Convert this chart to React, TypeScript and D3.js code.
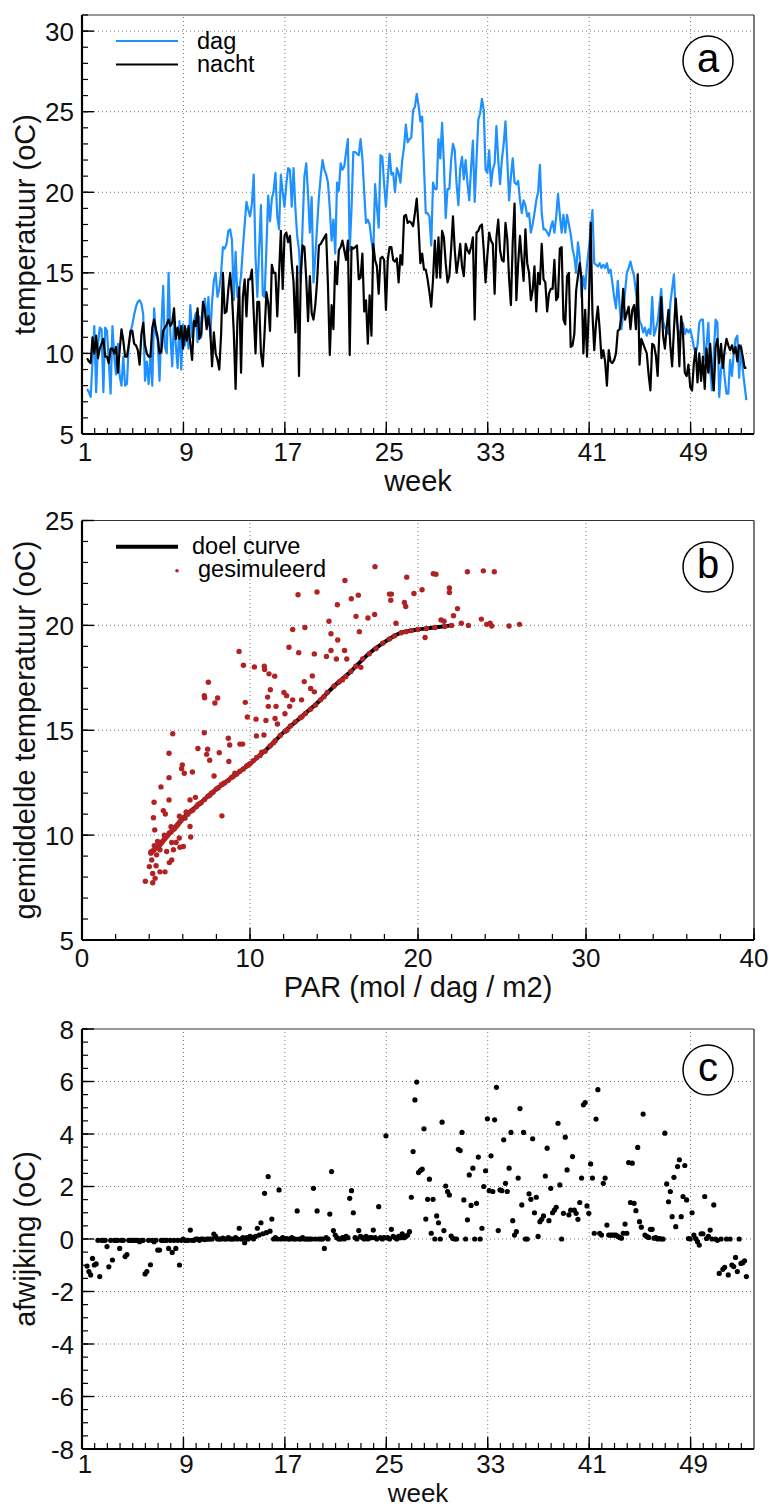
import React from 'react';
import * as d3 from 'd3';

const FONT = '"Liberation Sans", Arial, Helvetica, sans-serif';

// ---------- Panel a: daily temperatures (rows = weeks, first row starts at week 1.4) ----------
const dagRows: number[][] = [
  [7.8, 7.6, 7.3, 9.5],
  [11.7, 7.6, 10.5, 11.6, 11.5, 7.6, 11.6],
  [11.4, 9.5, 7.5, 11.7, 9.8, 8.7, 10.6],
  [8.6, 8.0, 9.8, 8.0, 8.1, 10.5, 11.3],
  [11.8, 12.4, 12.9, 13.2, 13.3, 13.1, 12.4],
  [8.3, 9.5, 8.1, 10.0, 8.0, 12.8, 11.2],
  [10.8, 8.3, 11.5, 14.2, 10.4, 10.0, 15.0],
  [11.2, 9.2, 12.0, 10.5, 9.1, 12.0, 9.0],
  [11.8, 10.5, 11.5, 10.3, 13.0, 11.0, 12.0],
  [12.5, 10.7, 12.3, 11.0, 12.8, 13.4, 12.0],
  [13.5, 11.0, 13.2, 14.5, 15.0, 13.5, 14.0],
  [15.0, 16.6, 16.5, 16.8, 17.6, 17.7, 17.0],
  [13.3, 16.3, 13.5, 14.0, 14.8, 16.5, 18.0],
  [19.4, 18.9, 18.5, 19.3, 21.1, 16.0, 13.5],
  [16.5, 19.2, 13.6, 13.5, 16.5, 19.8, 18.2],
  [19.6, 20.1, 21.2, 18.5, 17.7, 21.1, 20.0],
  [19.1, 20.5, 21.5, 21.4, 19.1, 21.5, 19.0],
  [17.3, 16.4, 14.4, 18.0, 21.0, 21.8, 19.9],
  [17.5, 19.7, 14.4, 16.0, 17.9, 19.7, 21.0],
  [22.0, 21.4, 21.1, 20.6, 19.0, 17.0, 18.3],
  [16.2, 20.6, 20.1, 21.8, 21.4, 21.6, 22.5],
  [23.3, 16.4, 19.0, 22.5, 22.5, 22.4, 22.3],
  [23.3, 22.1, 20.0, 18.1, 18.3, 18.0, 17.0],
  [16.2, 20.5, 19.1, 17.8, 22.3, 22.2, 20.5],
  [19.1, 20.8, 22.4, 21.1, 21.2, 20.0, 21.5],
  [21.2, 20.6, 22.0, 22.8, 24.2, 23.1, 23.3],
  [23.4, 25.1, 25.3, 26.1, 25.4, 24.4, 24.7],
  [21.6, 18.7, 18.7, 18.5, 16.7, 20.6, 20.2],
  [20.2, 23.3, 22.1, 24.3, 21.8, 18.4, 20.2],
  [20.2, 22.0, 23.0, 22.6, 20.5, 19.2, 21.5],
  [22.2, 20.8, 22.0, 20.6, 19.5, 21.5, 23.2],
  [19.4, 22.0, 24.5, 24.9, 25.8, 25.1, 21.4],
  [21.2, 22.6, 20.4, 21.4, 21.8, 24.1, 22.0],
  [20.5, 22.0, 23.0, 24.4, 22.0, 19.5, 21.0],
  [22.1, 20.6, 20.5, 20.7, 19.5, 18.7, 19.5],
  [19.2, 18.5, 18.7, 17.5, 18.0, 18.7, 19.5],
  [20.0, 21.7, 18.7, 17.7, 17.7, 17.5, 17.3],
  [17.8, 18.2, 17.5, 18.5, 19.9, 18.6, 17.5],
  [18.6, 17.5, 18.6, 18.0, 17.4, 16.5, 16.0],
  [15.0, 16.9, 16.0, 13.5, 14.8, 14.0, 15.5],
  [16.5, 17.5, 18.9, 15.6, 15.5, 15.4, 15.6],
  [15.3, 15.5, 15.3, 15.6, 15.0, 15.2, 14.4],
  [13.5, 12.8, 14.5, 13.0, 11.5, 12.5, 13.8],
  [15.0, 15.3, 15.7, 15.2, 14.8, 13.8, 13.1],
  [12.0, 11.8, 11.3, 11.6, 11.1, 11.5, 11.2],
  [13.5, 11.1, 11.5, 12.0, 13.0, 14.0, 12.0],
  [11.6, 11.4, 11.2, 13.1, 14.0, 14.9, 12.5],
  [11.6, 11.1, 11.5, 11.9, 11.2, 11.5, 11.3],
  [11.5, 11.0, 10.4, 10.0, 10.5, 11.9, 12.1],
  [12.1, 9.6, 10.5, 11.9, 9.0, 7.7, 10.0],
  [12.1, 11.9, 7.3, 9.0, 9.8, 8.5, 7.5],
  [7.5, 9.6, 8.6, 10.0, 10.9, 11.1, 8.5],
  [10.5, 9.0, 8.0, 7.1],
];

const nachtRows: number[][] = [
  [9.7, 9.5, 9.4, 11.0],
  [10.0, 11.1, 9.7, 10.3, 10.6, 10.9, 9.8],
  [9.8, 9.4, 10.3, 10.3, 10.0, 10.4, 8.8],
  [10.2, 11.5, 10.8, 9.8, 9.8, 10.5, 11.4],
  [11.4, 10.6, 10.5, 10.2, 9.3, 11.2, 11.9],
  [10.5, 10.0, 9.8, 9.8, 11.6, 12.1, 11.5],
  [11.0, 10.0, 10.1, 11.4, 11.6, 11.8, 12.1],
  [11.7, 11.9, 12.8, 10.9, 11.6, 10.9, 11.7],
  [10.3, 11.7, 10.8, 11.7, 10.6, 9.6, 12.0],
  [11.7, 12.8, 10.9, 11.2, 13.2, 12.7, 11.5],
  [12.3, 11.5, 9.2, 11.3, 10.0, 9.6, 9.0],
  [11.2, 15.0, 12.5, 12.6, 14.0, 15.0, 13.6],
  [11.3, 7.8, 12.0, 14.1, 8.8, 13.5, 14.6],
  [12.3, 14.6, 14.6, 15.2, 12.5, 10.0, 13.2],
  [13.2, 10.0, 9.2, 11.3, 13.8, 13.1, 11.4],
  [15.5, 15.0, 15.0, 12.3, 15.0, 17.6, 14.0],
  [17.3, 17.5, 16.9, 17.3, 15.6, 14.4, 11.3],
  [15.4, 8.6, 15.0, 16.7, 16.6, 14.6, 12.0],
  [14.8, 12.5, 12.1, 13.0, 14.5, 16.7, 16.8],
  [17.0, 17.2, 17.4, 14.2, 9.9, 13.0, 11.5],
  [15.7, 14.3, 16.4, 16.6, 17.0, 16.4, 15.8],
  [17.0, 9.9, 16.6, 16.5, 16.6, 16.7, 14.6],
  [14.7, 16.2, 12.6, 13.3, 10.6, 13.6, 11.1],
  [16.8, 15.8, 15.4, 13.7, 15.9, 16.0, 15.8],
  [12.7, 15.8, 16.6, 16.6, 15.8, 15.7, 15.9],
  [14.4, 16.1, 15.5, 18.5, 18.6, 18.1, 18.2],
  [18.1, 17.9, 18.7, 19.6, 17.9, 15.6, 16.2],
  [15.2, 15.2, 14.6, 13.8, 12.9, 14.6, 17.0],
  [14.7, 17.2, 14.7, 17.6, 17.2, 15.6, 14.4],
  [14.8, 16.5, 18.5, 16.4, 15.0, 15.8, 16.8],
  [15.4, 14.8, 16.8, 16.4, 16.2, 16.6, 17.2],
  [12.1, 17.5, 17.6, 17.9, 18.0, 16.4, 14.4],
  [16.1, 17.5, 17.0, 16.8, 13.7, 17.2, 18.3],
  [16.4, 15.8, 15.7, 18.1, 17.1, 14.6, 13.0],
  [16.9, 19.3, 13.3, 15.6, 17.3, 15.8, 14.5],
  [17.7, 15.6, 15.0, 13.3, 13.9, 15.4, 12.6],
  [15.0, 14.3, 16.8, 14.6, 14.4, 12.6, 13.7],
  [14.0, 14.0, 15.8, 13.3, 13.5, 16.5, 16.6],
  [12.1, 11.8, 14.8, 15.0, 10.4, 10.5, 11.2],
  [13.9, 14.8, 15.6, 14.6, 10.0, 12.7, 9.8],
  [12.7, 18.1, 12.5, 10.2, 11.9, 12.9, 11.5],
  [9.7, 10.2, 9.5, 8.0, 10.2, 9.5, 9.4],
  [9.6, 10.0, 11.4, 11.5, 12.3, 14.0, 12.1],
  [12.5, 12.9, 11.5, 12.7, 13.0, 11.5, 14.9],
  [9.3, 10.9, 10.6, 10.3, 10.0, 8.7, 7.7],
  [10.6, 10.5, 9.9, 8.6, 11.5, 13.5, 11.1],
  [10.3, 11.6, 12.7, 10.5, 9.2, 11.5, 13.4],
  [11.7, 9.2, 12.3, 11.2, 8.8, 8.6, 9.3],
  [7.9, 7.7, 9.4, 10.3, 8.2, 10.0, 8.3],
  [9.8, 7.8, 10.3, 8.8, 10.6, 8.8, 7.7],
  [10.4, 10.9, 9.4, 10.6, 9.1, 10.2, 10.9],
  [10.5, 10.2, 10.5, 10.0, 10.4, 9.5, 10.5],
  [10.4, 9.8, 9.1, 9.1],
];

// ---------- Panel c: daily deviation ----------
const afwijkingRows: number[][] = [
  [-1.03, -1.24, -1.37, -0.74],
  [-0.99, -0.95, -0.05, -1.43, -0.05, -0.05, -0.05],
  [-0.29, -1.06, -0.05, -0.8, -0.05, -0.05, -0.05],
  [-0.36, -0.05, -0.05, -0.67, -0.59, -0.05, -0.05],
  [-0.05, -0.05, -0.05, -0.05, -0.1, -0.05, -0.05],
  [-1.33, -1.24, -0.05, -0.98, -0.05, -0.1, -0.05],
  [-0.42, -0.42, -0.05, -0.05, -0.05, -0.05, -0.36],
  [-0.05, -0.51, -0.05, -0.36, -0.05, -0.99, -0.05],
  [0.0, -0.05, -0.05, -0.05, 0.34, -0.05, -0.05],
  [0.0, 0.0, -0.05, 0.0, 0.0, -0.02, 0.0],
  [0.0, 0.0, 0.0, 0.19, 0.1, 0.0, 0.0],
  [0.0, 0.03, 0.0, 0.0, 0.05, 0.0, 0.0],
  [0.0, 0.05, 0.0, 0.41, 0.0, 0.05, -0.14],
  [0.05, 0.0, 0.1, 0.05, 0.0, 0.1, 0.41],
  [0.15, 0.62, 0.2, 1.74, 0.24, 2.38, 0.3],
  [0.76, 0.0, 0.05, 0.0, 1.87, 0.0, 0.05],
  [0.0, 0.02, 0.0, 0.0, 0.05, 0.0, 0.0],
  [1.07, 0.0, 0.0, 0.05, 0.0, 0.0, 0.0],
  [0.0, 0.0, 1.93, 0.0, 1.07, 0.0, 0.0],
  [0.0, -0.36, 0.05, 0.0, 0.95, 2.57, 0.32],
  [0.15, 0.05, 0.0, 0.0, 0.05, 0.0, 0.1],
  [0.05, 1.55, 1.84, 1.0, 0.05, 0.0, 0.32],
  [0.1, 0.05, 0.0, 0.1, 0.0, 0.05, 0.05],
  [0.34, 0.05, 0.0, 1.23, 0.05, 0.0, 0.05],
  [3.93, 0.05, 0.0, 0.37, 0.1, 0.05, 0.0],
  [0.1, 0.05, 0.2, 0.05, 0.1, 0.15, 0.28],
  [1.59, 3.33, 5.3, 5.98, 2.53, 2.61, 2.66],
  [4.2, 0.76, 1.51, 2.28, 0.22, 1.51, 0.0],
  [0.88, 0.62, 0.0, 4.45, 0.32, 2.02, 1.81],
  [1.68, 0.11, 0.02, 0.0, 0.0, 3.42, 3.37],
  [4.06, 1.49, 0.0, 0.73, 2.44, 1.28, 2.7],
  [0.0, 1.36, 3.12, 0.0, 0.41, 2.0, 2.6],
  [4.58, 1.84, 3.17, 1.81, 4.54, 5.78, 0.32],
  [1.87, 1.84, 3.78, 2.12, 1.81, 2.7, 4.06],
  [0.7, 0.15, 0.28, 2.32, 4.97, 1.3, 4.06],
  [0.0, 0.0, 1.72, 1.51, 3.82, 1.0, 1.59],
  [0.1, 0.66, 0.75, 0.88, 2.4, 3.46, 0.7],
  [1.93, 1.0, 1.1, 1.21, 4.41, 2.06, 0.0],
  [0.98, 3.88, 2.63, 0.92, 1.1, 3.14, 1.1],
  [0.98, 0.75, 1.39, 2.32, 5.11, 5.2, 1.26],
  [0.98, 2.86, 2.32, 0.22, 4.57, 5.69, 0.22],
  [0.15, 2.12, 2.32, 0.53, 0.15, 0.15, 0.15],
  [0.15, 0.15, 0.1, 0.06, 0.03, 0.22, 0.57],
  [0.22, 2.91, 1.39, 2.89, 1.36, 1.08, 3.49],
  [0.66, 0.45, 4.76, 0.15, 0.1, 0.06, 0.37],
  [0.37, 0.03, 0.05, 0.0, 0.02, 0.0, 0.0],
  [4.03, 2.1, 1.42, 1.81, 0.85, 2.35, 0.47],
  [2.76, 3.02, 0.85, 1.62, 2.8, 1.49, 0.02],
  [0.0, 1.0, 0.15, 0.02, -0.1, -0.23, 0.2],
  [0.2, 1.62, 0.02, 0.1, 0.34, 0.0, 1.3],
  [0.0, -0.05, -1.31, 0.0, -1.16, -1.08, 0.0],
  [-1.37, 0.0, -0.99, -1.05, -0.7, -1.24, 0.0],
  [-0.93, -0.9, -0.83, -1.43],
];

// ---------- Panel b: target curve and simulated points ----------
const doelPar = [4.05, 5, 6, 7, 8, 9, 10, 11, 12, 13, 14, 15, 16, 17, 18, 19, 20, 21, 22];
const doelTemp = [9.1, 9.9, 10.8, 11.5, 12.2, 12.8, 13.4, 14.1, 14.9, 15.6, 16.3, 17.1, 17.8, 18.6, 19.2, 19.65, 19.8, 19.9, 20.0];

const simPar = [
  17.44, 15.65, 19.33, 20.91, 21.07, 22.94, 23.89, 24.54, 12.86, 13.99, 16.03, 16.45, 18.3, 18.42, 18.38, 19.76, 20.24, 21.87, 21.87, 15.2,
  19.19, 19.27, 17.42, 16.31, 17.02, 22.35, 22.11, 14.7, 12.54, 13.27, 18.69, 21.37, 21.55, 22.58, 23.0, 23.77, 24.09, 24.29, 24.39, 25.42,
  26.04, 20.42, 16.51, 14.82, 15.22, 12.32, 12.9, 9.35, 13.83, 14.82, 15.63, 14.55, 15.14, 15.76, 9.61, 10.26, 10.85, 10.87, 11.13, 11.47,
  13.71, 13.23, 11.21, 12.02, 12.18, 11.05, 13.61, 13.83, 7.52, 7.28, 7.3, 8.07, 7.91, 9.72, 13.07, 12.54, 11.09, 11.55, 12.36, 12.08,
  9.84, 10.36, 10.95, 11.49, 11.63, 5.4, 7.28, 8.71, 10.38, 10.83, 6.9, 7.48, 9.4, 9.56, 8.79, 5.18, 7.42, 7.6, 8.17, 8.74,
  5.97, 5.93, 6.09, 6.57, 5.18, 7.86, 4.7, 5.18, 4.29, 4.84, 4.96, 4.25, 6.43, 6.75, 8.33, 6.47, 4.33, 3.77, 4.21, 4.35,
  4.21, 4.64, 4.94, 4.41, 5.2, 5.34, 5.44, 5.83, 5.6, 6.03, 4.1, 4.15, 4.01, 4.44, 4.64, 5.04, 5.34, 5.79, 6.13, 6.43,
  4.1, 4.2, 4.3, 4.4, 4.5, 4.6, 4.7, 4.8, 4.9, 5.0, 5.1, 5.2, 5.3, 5.4, 5.5, 5.6, 5.7, 5.8, 5.9, 6.0,
  4.3, 4.5, 4.9, 5.3, 5.8, 6.2, 6.1, 6.3, 6.5, 6.6, 6.8, 7.0, 7.1, 7.3, 7.5, 7.6, 7.8, 8.0, 8.1, 8.3,
  8.5, 8.7, 8.9, 9.0, 9.2, 9.4, 9.6, 9.8, 10.0, 10.2, 10.4, 10.6, 10.9, 11.2, 11.5, 11.8, 12.1, 12.4, 12.7, 13.0,
  13.3, 13.6, 13.9, 14.2, 14.6, 15.0, 15.3, 15.7, 16.0, 16.3, 16.7, 17.1, 17.5, 17.9, 18.3, 18.6, 19.0, 19.3, 19.6, 20.0,
  20.5, 21.0, 21.6, 22.0, 6.9, 7.7, 8.4, 9.1, 9.9, 10.7, 11.4, 12.2, 13.1, 14.4, 15.5, 16.6,
];
const simTemp = [
  22.8, 22.14, 22.3, 22.46, 22.44, 22.56, 22.6, 22.56, 21.46, 21.59, 21.27, 21.44, 21.49, 21.49, 21.2, 21.52, 21.7, 21.78, 21.57, 20.98,
  21.09, 20.9, 20.52, 20.43, 20.35, 20.8, 20.46, 20.2, 19.8, 19.9, 20.1, 20.26, 20.2, 20.1, 20.0, 20.3, 20.05, 20.1, 19.97, 19.97,
  20.05, 19.42, 19.7, 19.6, 19.3, 18.96, 18.7, 18.76, 18.64, 18.8, 18.8, 18.52, 18.4, 18.4, 18.1, 18.02, 18.05, 17.9, 17.69, 17.58,
  17.59, 17.32, 16.93, 16.8, 16.65, 16.58, 16.99, 16.83, 17.29, 16.65, 16.55, 16.54, 16.3, 16.33, 16.45, 16.45, 16.14, 16.14, 16.14, 15.79,
  15.63, 15.53, 15.47, 15.56, 15.3, 14.83, 14.88, 14.62, 14.73, 14.77, 14.13, 14.1, 14.34, 14.34, 14.3, 13.9, 13.85, 13.57, 13.93, 13.51,
  13.35, 13.17, 12.95, 13.01, 12.74, 12.82, 12.3, 11.68, 11.57, 11.17, 11.01, 10.83, 11.68, 11.8, 10.92, 9.91, 10.25, 7.8, 7.73, 7.94,
  8.17, 8.25, 8.25, 8.54, 8.69, 8.82, 9.3, 9.42, 9.65, 9.46, 9.14, 8.82, 8.5, 9.06, 9.3, 9.22, 9.65, 9.86, 10.81, 10.41,
  9.2, 9.25, 9.3, 9.4, 9.45, 9.5, 9.6, 9.7, 9.8, 9.9, 10.0, 10.1, 10.15, 10.25, 10.3, 10.4, 10.5, 10.6, 10.7, 10.8,
  9.5, 9.7, 10.0, 10.4, 10.9, 11.1, 10.85, 11.0, 11.15, 11.2, 11.35, 11.5, 11.55, 11.7, 11.85, 11.9, 12.05, 12.2, 12.25, 12.4,
  12.5, 12.6, 12.75, 12.8, 12.9, 13.05, 13.15, 13.3, 13.4, 13.55, 13.7, 13.8, 14.0, 14.25, 14.5, 14.75, 14.95, 15.2, 15.4, 15.6,
  15.8, 16.0, 16.2, 16.45, 16.8, 17.1, 17.3, 17.55, 17.8, 18.05, 18.4, 18.65, 18.9, 19.15, 19.35, 19.5, 19.65, 19.7, 19.75, 19.8,
  19.85, 19.9, 19.95, 20.0, 11.45, 12.0, 12.45, 12.95, 13.35, 13.95, 14.4, 15.0, 15.65, 16.6, 17.4, 18.0,
];

const weekMajor = [1, 9, 17, 25, 33, 41, 49];
const weekGrid = [9, 17, 25, 33, 41, 49];
const tempAMajor = [5, 10, 15, 20, 25, 30];
const tempAGrid = [10, 15, 20, 25, 30];
const parMajor = [0, 10, 20, 30, 40];
const parGrid = [10, 20, 30];
const tempBMajor = [5, 10, 15, 20, 25];
const tempBGrid = [10, 15, 20];
const devMajor = [-8, -6, -4, -2, 0, 2, 4, 6, 8];
const devGrid = [-6, -4, -2, 0, 2, 4, 6];

const dag = dagRows.flat();
const nacht = nachtRows.flat();
const afwijking = afwijkingRows.flat();
const START_WEEK = 1.4;
const weekOfDay = (i: number) => START_WEEK + i / 7;

const rangeStep = (a: number, b: number, s: number) => d3.range(a, b + s / 2, s);

type AxesProps = {
  xs: d3.ScaleLinear<number, number>;
  ys: d3.ScaleLinear<number, number>;
  xMajor: number[];
  xMinor: number[];
  yMajor: number[];
  yMinor: number[];
  xGrid: number[];
  yGrid: number[];
  xLabelDx: number;
  xLabelDy: number;
};

function Axes({ xs, ys, xMajor, xMinor, yMajor, yMinor, xGrid, yGrid, xLabelDx, xLabelDy }: AxesProps) {
  const [x0, x1] = xs.range();
  const [yb, yt] = ys.range();
  return (
    <g>
      {xGrid.map((v) => (
        <line key={'xg' + v} x1={xs(v)} x2={xs(v)} y1={yb} y2={yt} stroke="#777" strokeWidth={1} strokeDasharray="1,3" />
      ))}
      {yGrid.map((v) => (
        <line key={'yg' + v} x1={x0} x2={x1} y1={ys(v)} y2={ys(v)} stroke="#777" strokeWidth={1} strokeDasharray="1,3" />
      ))}
      <line x1={x0} x2={x1} y1={yt} y2={yt} stroke="#333" strokeWidth={1.2} />
      <line x1={x1} x2={x1} y1={yt} y2={yb} stroke="#222" strokeWidth={1.2} />
      {xMinor.map((v) => (
        <line key={'xm' + v} x1={xs(v)} x2={xs(v)} y1={yb} y2={yb - 6} stroke="#000" strokeWidth={1.2} />
      ))}
      {xMajor.map((v) => (
        <line key={'xM' + v} x1={xs(v)} x2={xs(v)} y1={yb} y2={yb - 12} stroke="#000" strokeWidth={1.4} />
      ))}
      {yMinor.map((v) => (
        <line key={'ym' + v} x1={x0} x2={x0 + 6} y1={ys(v)} y2={ys(v)} stroke="#000" strokeWidth={1.2} />
      ))}
      {yMajor.map((v) => (
        <line key={'yM' + v} x1={x0} x2={x0 + 12} y1={ys(v)} y2={ys(v)} stroke="#000" strokeWidth={1.4} />
      ))}
      <line x1={x0} x2={x1} y1={yb} y2={yb} stroke="#000" strokeWidth={2.2} />
      <line x1={x0} x2={x0} y1={yt} y2={yb} stroke="#000" strokeWidth={2.2} />
      {xMajor.map((v) => (
        <text key={'xl' + v} x={xs(v) + xLabelDx} y={yb + xLabelDy} textAnchor="middle" fontSize={26} fontFamily={FONT} fill="#111">
          {v}
        </text>
      ))}
      {yMajor.map((v) => (
        <text key={'yl' + v} x={74} y={ys(v) + 9.5} textAnchor="end" fontSize={26} fontFamily={FONT} fill="#111">
          {v}
        </text>
      ))}
    </g>
  );
}

function CircleLabel({ cx, cy, label }: { cx: number; cy: number; label: string }) {
  return (
    <g>
      <circle cx={cx} cy={cy} r={25} fill="#fff" stroke="#000" strokeWidth={1.5} />
      <text x={cx} y={cy + 11} textAnchor="middle" fontSize={40} fontFamily={FONT} fill="#000">
        {label}
      </text>
    </g>
  );
}

export default function App() {
  const L = 82;
  const R = 754;
  const xWeek = d3.scaleLinear().domain([1, 54]).range([L, R]);
  const yA = d3.scaleLinear().domain([5, 31]).range([434, 15]);
  const xB = d3.scaleLinear().domain([0, 40]).range([L, R]);
  const yB = d3.scaleLinear().domain([5, 25]).range([940, 520.5]);
  const yC = d3.scaleLinear().domain([-8, 8]).range([1449, 1029]);

  const lineA = d3
    .line<number>()
    .x((_, i) => xWeek(weekOfDay(i)))
    .y((d) => yA(d));
  const lineDoel = d3
    .line<number>()
    .curve(d3.curveMonotoneX)
    .x((d) => xB(d))
    .y((_, i) => yB(doelTemp[i]));

  const weekMinor = rangeStep(1, 53, 1);

  return (
    <div style={{ position: 'absolute', left: 0, top: 0 }}>
      <svg width={769} height={1508} style={{ display: 'block', background: '#fff' }}>
        {/* Panel a */}
        <Axes
          xs={xWeek}
          ys={yA}
          xMajor={weekMajor}
          xMinor={weekMinor}
          yMajor={tempAMajor}
          yMinor={rangeStep(5, 31, 1)}
          xGrid={weekGrid}
          yGrid={tempAGrid}
          xLabelDx={3}
          xLabelDy={27}
        />
        <path d={lineA(dag) || ''} fill="none" stroke="#1E90FF" strokeWidth={2.2} strokeLinejoin="round" />
        <path d={lineA(nacht) || ''} fill="none" stroke="#000" strokeWidth={2.2} strokeLinejoin="round" />
        <line x1={116} x2={178} y1={41} y2={41} stroke="#1E90FF" strokeWidth={2.2} />
        <text x={197} y={48.5} fontSize={23.5} fontFamily={FONT} fill="#000">dag</text>
        <line x1={116} x2={178} y1={64.5} y2={64.5} stroke="#000" strokeWidth={2.2} />
        <text x={197} y={72} fontSize={23.5} fontFamily={FONT} fill="#000">nacht</text>
        <CircleLabel cx={708} cy={61} label="a" />
        <text transform="translate(35,224.5) rotate(-90)" textAnchor="middle" fontSize={29} fontFamily={FONT} fill="#111">
          temperatuur (oC)
        </text>
        <text x={418} y={491} textAnchor="middle" fontSize={29} fontFamily={FONT} fill="#111">week</text>

        {/* Panel b */}
        <Axes
          xs={xB}
          ys={yB}
          xMajor={parMajor}
          xMinor={rangeStep(0, 40, 2)}
          yMajor={tempBMajor}
          yMinor={rangeStep(5, 25, 1)}
          xGrid={parGrid}
          yGrid={tempBGrid}
          xLabelDx={0}
          xLabelDy={27}
        />
        <path d={lineDoel(doelPar) || ''} fill="none" stroke="#000" strokeWidth={4} />
        {simPar.map((p, i) => (
          <circle key={'s' + i} cx={xB(p)} cy={yB(simTemp[i])} r={2.7} fill="#B22222" />
        ))}
        <line x1={116} x2={178} y1={546.7} y2={546.7} stroke="#000" strokeWidth={4} />
        <text x={192} y={553.5} fontSize={23.5} fontFamily={FONT} fill="#000">doel curve</text>
        <circle cx={177} cy={570.7} r={1.8} fill="#B22222" />
        <text x={198} y={577} fontSize={23.5} fontFamily={FONT} fill="#000">gesimuleerd</text>
        <CircleLabel cx={708} cy={567} label="b" />
        <text transform="translate(35,730) rotate(-90)" textAnchor="middle" fontSize={29} fontFamily={FONT} fill="#111">
          gemiddelde temperatuur (oC)
        </text>
        <text x={418} y={997} textAnchor="middle" fontSize={29} fontFamily={FONT} fill="#111">PAR (mol / dag / m2)</text>

        {/* Panel c */}
        <Axes
          xs={xWeek}
          ys={yC}
          xMajor={weekMajor}
          xMinor={weekMinor}
          yMajor={devMajor}
          yMinor={rangeStep(-8, 8, 0.5)}
          xGrid={weekGrid}
          yGrid={devGrid}
          xLabelDx={3}
          xLabelDy={24}
        />
        {afwijking.map((v, i) => (
          <circle key={'c' + i} cx={xWeek(weekOfDay(i))} cy={yC(v)} r={2.6} fill="#000" />
        ))}
        <CircleLabel cx={708} cy={1070} label="c" />
        <text transform="translate(35,1239) rotate(-90)" textAnchor="middle" fontSize={29} fontFamily={FONT} fill="#111">
          afwijking (oC)
        </text>
        <text x={418} y={1502} textAnchor="middle" fontSize={26} fontFamily={FONT} fill="#111">week</text>
      </svg>
    </div>
  );
}
